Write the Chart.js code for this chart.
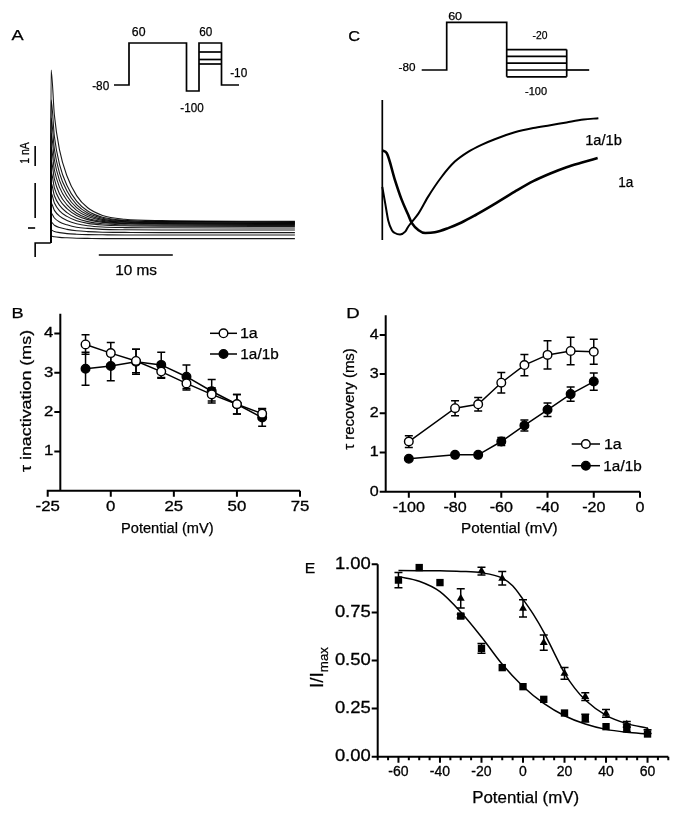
<!DOCTYPE html>
<html>
<head>
<meta charset="utf-8">
<script src="https://cdn.jsdelivr.net/npm/chart.js@4.4.1/dist/chart.umd.min.js"></script>
<style>
html, body { margin: 0; padding: 0; background: #fff; }
#page { position: relative; width: 679px; height: 817px; overflow: hidden; font-family: "Liberation Sans", Arial, sans-serif; color: #000; }
#page canvas { position: absolute; }
.lbl { position: absolute; white-space: nowrap; line-height: 1; -webkit-text-stroke: 0.25px #000; }
.lbl sub { font-size: 70%; vertical-align: -0.35em; line-height: 0; }
</style>
</head>
<body>
<div id="page"></div>
<script>
// ---------- data ----------

// A: current family, time (ms) / current (nA)
const traceTimes = [0, 0.05, 0.5, 1.2, 2.2, 3.5, 5, 7, 10, 15, 33];
const traceBase = -0.75;
const aTraces = [
  [7.9, 5.63, 3.89, 2.60, 1.62, 1.01, 0.63, 0.44, 0.37, 0.33],
  [6.4, 4.57, 3.17, 2.13, 1.34, 0.85, 0.54, 0.39, 0.33, 0.30],
  [5.5, 3.93, 2.73, 1.85, 1.17, 0.75, 0.49, 0.36, 0.31, 0.28],
  [4.75, 3.40, 2.37, 1.60, 1.02, 0.66, 0.43, 0.32, 0.27, 0.25],
  [4.05, 2.90, 2.03, 1.38, 0.88, 0.57, 0.38, 0.29, 0.25, 0.23],
  [3.4, 2.44, 1.70, 1.16, 0.74, 0.49, 0.33, 0.25, 0.22, 0.20],
  [2.8, 2.01, 1.41, 0.97, 0.63, 0.42, 0.28, 0.22, 0.19, 0.18],
  [2.25, 1.61, 1.13, 0.77, 0.49, 0.32, 0.21, 0.16, 0.14, 0.13],
  [1.75, 1.25, 0.86, 0.58, 0.36, 0.23, 0.15, 0.11, 0.09, 0.08],
  [1.25, 0.88, 0.59, 0.38, 0.21, 0.11, 0.05, 0.02, 0.01, 0.0],
  [0.75, 0.50, 0.30, 0.16, 0.04, -0.02, -0.07, -0.09, -0.10, -0.10],
  [0.3, 0.14, 0.02, -0.07, -0.14, -0.18, -0.21, -0.22, -0.23, -0.23],
  [-0.1, -0.18, -0.23, -0.28, -0.31, -0.33, -0.34, -0.35, -0.35, -0.35],
  [-0.4, -0.44, -0.47, -0.49, -0.51, -0.52, -0.53, -0.53, -0.53, -0.53]
];
const aHoldTime = [-2.1, 0];
const aArtifact = [-1.45, -0.75];
const aMarkLine = [0.5, 2.25];
const aZeroMark = [-3.07, -2.1];
const aBarNA = [3.1, 4.1];     // 1 nA scale bar
const aBarMs = [6.5, 16.5];    // 10 ms scale bar
const aBarLevel = -1.35;

// A inset: voltage protocol (ms / mV)
const protoATime = [0, 6, 6, 29, 29, 34, 34, 43, 43, 50];
const protoAVolt = [-80, -80, 60, 60, -100, -100, 60, 60, -80, -80];
const protoASteps = [30, 5, -10];
const protoABox = [34, 43];

// C inset: voltage protocol
const protoCTime = [0, 10, 10, 34, 34];
const protoCVolt = [-80, -80, 60, 60, -100];
const protoCSteps = [-20, -40, -60, -80, -100];
const protoCBox = [34, 58];
const protoCTail = [58, 67];

// C: normalised currents
const cTime1a1b = [0, 0.4, 0.8, 1.3, 1.7, 2.4, 3.1, 3.5, 4.0, 4.9, 6.2, 8.0, 9.8, 11.6, 13.4, 15.2, 17.9, 20.4, 22.7, 24.9, 27.2, 29.2];
const cCur1a1b = [0.38, 0.26, 0.14, 0.07, 0.05, 0.04, 0.06, 0.095, 0.13, 0.19, 0.31, 0.45, 0.56, 0.63, 0.68, 0.72, 0.77, 0.80, 0.82, 0.84, 0.86, 0.87];
const cTime1a = [0, 0.6, 1.7, 2.6, 3.5, 4.0, 4.9, 5.8, 7.1, 8.9, 10.7, 12.5, 14.8, 17.9, 20.4, 22.7, 24.9, 27.1, 29.1];
const cCur1a = [0.64, 0.62, 0.43, 0.29, 0.18, 0.12, 0.07, 0.05, 0.055, 0.085, 0.125, 0.175, 0.245, 0.345, 0.42, 0.475, 0.52, 0.555, 0.585];
const cArtifact = [0, 1.0];

// B: tau inactivation (ms)
const bVolt = [-10, 0, 10, 20, 30, 40, 50, 60];
const b1a = [3.72, 3.5, 3.3, 3.03, 2.73, 2.45, 2.2, 1.96];
const b1aErr = [0.25, 0.27, 0.3, 0.17, 0.17, 0.17, 0.25, 0.13];
const b1a1b = [3.1, 3.17, 3.28, 3.2, 2.9, 2.53, 2.2, 1.86];
const b1a1bErr = [0.42, 0.37, 0.32, 0.32, 0.3, 0.3, 0.25, 0.22];
const bXTicks = [-25, 0, 25, 50, 75];
const bYTicks = [1, 2, 3, 4];

// D: tau recovery (ms)
const dVolt = [-100, -80, -70, -60, -50, -40, -30, -20];
const d1a = [1.28, 2.13, 2.23, 2.78, 3.23, 3.49, 3.59, 3.57];
const d1aErr = [0.15, 0.19, 0.17, 0.26, 0.27, 0.36, 0.35, 0.32];
const d1a1b = [0.84, 0.94, 0.94, 1.28, 1.69, 2.09, 2.49, 2.81];
const d1a1bErr = [0, 0, 0, 0.1, 0.14, 0.17, 0.18, 0.22];
const dXTicks = [-100, -80, -60, -40, -20, 0];
const dYTicks = [0, 1, 2, 3, 4];

// E: steady-state inactivation I/Imax
const eVolt = [-60, -50, -40, -30, -20, -10, 0, 10, 20, 30, 40, 50, 60];
const eSquare = [0.918, 0.983, 0.905, 0.731, 0.563, 0.463, 0.364, 0.298, 0.227, 0.2, 0.156, 0.15, 0.118];
const eSquareErr = [0.04, 0, 0, 0.01, 0.025, 0, 0, 0, 0, 0.02, 0, 0.02, 0];
const eTriVolt = [-30, -20, -10, 0, 10, 20, 30, 40, 50, 60];
const eTri = [0.823, 0.965, 0.927, 0.771, 0.593, 0.433, 0.312, 0.225, 0.168, 0.13];
const eTriErr = [0.05, 0.02, 0.035, 0.045, 0.04, 0.03, 0.02, 0.02, 0.015, 0.01];
const eFitSqVolt = [-60, -50, -40, -30, -20, -10, 0, 10, 20, 30, 40, 50, 60];
const eFitSq = [0.936, 0.912, 0.858, 0.752, 0.622, 0.48, 0.365, 0.277, 0.213, 0.17, 0.142, 0.127, 0.118];
const eFitTriVolt = [-60, -50, -40, -30, -20, -10, -5, 0, 5, 10, 15, 20, 25, 30, 40, 50, 60];
const eFitTri = [0.968, 0.967, 0.966, 0.963, 0.956, 0.928, 0.888, 0.818, 0.74, 0.648, 0.54, 0.435, 0.355, 0.295, 0.215, 0.172, 0.148];
const eXTicks = [-60, -40, -20, 0, 20, 40, 60];
const eXMinor = [-70, -65, -55, -50, -45, -35, -30, -25, -15, -10, -5, 5, 10, 15, 25, 30, 35, 45, 50, 55, 65, 70];
const eYTicks = [0, 0.25, 0.5, 0.75, 1];

// ---------- helpers ----------
const page = document.getElementById('page');
const FONT = '"Liberation Sans", Arial, sans-serif';

function pts(xs, ys) { return xs.map((x, i) => ({ x: x, y: ys[i] })); }

function lineDs(points, width, extra) {
  return Object.assign({
    data: points, showLine: true, borderColor: '#000', borderWidth: width,
    pointRadius: 0, pointHoverRadius: 0, fill: false, clip: false, tension: 0
  }, extra || {});
}

// value range of a canvas edge, from two pixel anchors
function span(lo, hi, p0, v0, p1, v1) {
  const k = (v1 - v0) / (p1 - p0);
  const a = v0 + (lo - p0) * k, b = v0 + (hi - p0) * k;
  return [Math.min(a, b), Math.max(a, b)];
}

// axes, tick marks and tick labels drawn from the chart's scales
const axisPlugin = {
  id: 'axisDraw',
  beforeDatasetsDraw(chart, args, o) {
    if (!o || !o.xTicks) return;
    const ctx = chart.ctx;
    const X = v => chart.scales.x.getPixelForValue(v);
    const Y = v => chart.scales.y.getPixelForValue(v);
    const x0 = X(o.yAt), y0 = Y(o.xAt);
    ctx.save();
    ctx.strokeStyle = '#000';
    ctx.lineWidth = 2;
    ctx.beginPath();
    ctx.moveTo(X(o.xFrom) - 1, y0); ctx.lineTo(X(o.xTo), y0);
    ctx.moveTo(x0, y0 + 1); ctx.lineTo(x0, Y(o.yTo));
    o.xTicks.forEach(v => { ctx.moveTo(X(v), y0); ctx.lineTo(X(v), y0 + o.tick); });
    (o.xMinor || []).forEach(v => { ctx.moveTo(X(v), y0); ctx.lineTo(X(v), y0 + o.minor); });
    o.yTicks.forEach(v => { ctx.moveTo(x0, Y(v)); ctx.lineTo(x0 - o.tick, Y(v)); });
    ctx.stroke();

    ctx.fillStyle = '#000';
    ctx.strokeStyle = '#000';
    ctx.lineWidth = 0.3;
    ctx.textBaseline = 'middle';
    const put = (txt, x, y, sx) => {
      ctx.save();
      ctx.translate(x, y);
      ctx.scale(sx, 1);
      ctx.fillText(txt, 0, 0);
      ctx.strokeText(txt, 0, 0);
      ctx.restore();
    };
    ctx.font = (o.xFont || o.font) + 'px ' + FONT;
    ctx.textAlign = 'center';
    o.xTicks.forEach(v => put(v.toFixed(o.xdec || 0), X(v), y0 + o.xLabelDy, o.xsx || o.sx));
    ctx.font = o.font + 'px ' + FONT;
    ctx.textAlign = 'right';
    o.yTicks.forEach(v => put(v.toFixed(o.dec || 0), x0 - o.yLabelDx, Y(v), o.sx));
    ctx.restore();
  }
};

// vertical error bars with caps, under each dataset's markers
const errorPlugin = {
  id: 'errBars',
  beforeDatasetDraw(chart, args) {
    const ds = chart.data.datasets[args.index];
    if (!ds.errors) return;
    const ctx = chart.ctx, ys = chart.scales.y;
    ctx.save();
    ctx.strokeStyle = '#000';
    ctx.lineWidth = 1.5;
    ctx.beginPath();
    args.meta.data.forEach((pt, i) => {
      const e = ds.errors[i];
      if (!e) return;
      const v = ds.data[i].y;
      const top = ys.getPixelForValue(v + e), bot = ys.getPixelForValue(v - e);
      ctx.moveTo(pt.x, top); ctx.lineTo(pt.x, bot);
      ctx.moveTo(pt.x - 4, top); ctx.lineTo(pt.x + 4, top);
      ctx.moveTo(pt.x - 4, bot); ctx.lineTo(pt.x + 4, bot);
    });
    ctx.stroke();
    ctx.restore();
  }
};

// legend key: short line with the dataset's marker
const keyPlugin = {
  id: 'keyDraw',
  afterDatasetsDraw(chart, args, o) {
    if (!o || !o.items) return;
    const ctx = chart.ctx;
    o.items.forEach(it => {
      const ds = chart.data.datasets[it.dataset];
      const cx = (o.x0 + o.x1) / 2;
      ctx.save();
      ctx.strokeStyle = '#000';
      ctx.lineWidth = ds.borderWidth;
      ctx.beginPath(); ctx.moveTo(o.x0, it.y); ctx.lineTo(o.x1, it.y); ctx.stroke();
      ctx.fillStyle = ds.pointBackgroundColor;
      ctx.lineWidth = ds.pointBorderWidth;
      ctx.beginPath(); ctx.arc(cx, it.y, ds.pointRadius, 0, Math.PI * 2);
      ctx.fill(); ctx.stroke();
      ctx.restore();
    });
  }
};

function addChart(box, datasets, xr, yr, extra) {
  extra = extra || {};
  const c = document.createElement('canvas');
  c.width = box.w; c.height = box.h;
  c.style.left = box.x + 'px'; c.style.top = box.y + 'px';
  c.style.width = box.w + 'px'; c.style.height = box.h + 'px';
  page.appendChild(c);
  return new Chart(c, {
    type: 'scatter',
    data: { datasets: datasets },
    options: {
      responsive: false,
      animation: false,
      devicePixelRatio: 1,
      events: [],
      layout: { padding: extra.padding || 0 },
      plugins: {
        legend: { display: false },
        tooltip: { enabled: false },
        axisDraw: extra.axes || false,
        keyDraw: extra.key || false
      },
      scales: {
        x: { type: 'linear', display: false, min: xr[0], max: xr[1] },
        y: { type: 'linear', display: false, min: yr[0], max: yr[1] }
      }
    },
    plugins: [axisPlugin, errorPlugin, keyPlugin]
  });
}

function label(html, cx, cy, size, width, rotate) {
  const d = document.createElement('div');
  d.className = 'lbl';
  d.innerHTML = html;
  d.style.fontSize = size + 'px';
  page.appendChild(d);
  const w = d.offsetWidth, h = d.offsetHeight;
  const sx = width ? width / w : 1;
  d.style.left = (cx - w / 2) + 'px';
  d.style.top = (cy - h / 2) + 'px';
  d.style.transform = (rotate ? 'rotate(-90deg) ' : '') + 'scaleX(' + sx.toFixed(3) + ')';
}

// ---------- panel A ----------
const aSets = aTraces.map(vals => lineDs(
  [{ x: traceTimes[0], y: traceBase }].concat(vals.map((v, i) => ({ x: traceTimes[i + 1], y: v }))),
  1.1, { borderColor: 'rgba(0,0,0,0.9)', cubicInterpolationMode: 'monotone' }));
aSets.push(lineDs([{ x: aHoldTime[0], y: aArtifact[0] }, { x: aHoldTime[0], y: aArtifact[1] }, { x: aHoldTime[1], y: traceBase }], 1.6));
aSets.push(lineDs(pts([aHoldTime[0], aHoldTime[0]], aMarkLine), 1.6));
aSets.push(lineDs(pts(aZeroMark, [0, 0]), 1.6));
aSets.push(lineDs(pts([aHoldTime[0], aHoldTime[0]], aBarNA), 1.6));
aSets.push(lineDs(pts(aBarMs, [aBarLevel, aBarLevel]), 1.6));
addChart({ x: 15, y: 55, w: 300, h: 225 }, aSets,
  span(15, 315, 50.7, 0, 124.7, 10), span(55, 280, 228, 0, 208, 1));

const paSets = [lineDs(pts(protoATime, protoAVolt), 1.7)];
protoASteps.forEach(s => paSets.push(lineDs(pts(protoABox, [s, s]), 1.7)));
addChart({ x: 100, y: 25, w: 150, h: 90 }, paSets,
  span(100, 250, 114, 0, 139, 10), span(25, 115, 85, -80, 43, 60));

// ---------- panel C ----------
const pcSets = [lineDs(pts(protoCTime, protoCVolt), 1.7)];
protoCSteps.forEach(s => pcSets.push(lineDs(pts(protoCBox, [s, s]), 1.7)));
pcSets.push(lineDs(pts([protoCBox[1], protoCBox[1]], [protoCSteps[0], protoCSteps[protoCSteps.length - 1]]), 1.7));
pcSets.push(lineDs(pts(protoCTail, [-80, -80]), 1.7));
addChart({ x: 400, y: 8, w: 200, h: 85 }, pcSets,
  span(400, 600, 421.7, 0, 446.7, 10), span(8, 93, 70, -80, 22.4, 60));

addChart({ x: 370, y: 92, w: 240, h: 155 }, [
  lineDs(pts([0, 0], cArtifact), 1.7),
  lineDs(pts(cTime1a, cCur1a), 2.6, { cubicInterpolationMode: 'monotone' }),
  lineDs(pts(cTime1a1b, cCur1a1b), 2.0, { cubicInterpolationMode: 'monotone' })
], span(370, 610, 382.3, 0, 456.3, 10), span(92, 247, 240, 0, 100, 1));

// ---------- panel B ----------
function tauSet(xs, ys, errs, fillColor) {
  return lineDs(pts(xs, ys), 1.5, {
    errors: errs, pointRadius: 4.3, pointStyle: 'circle',
    pointBackgroundColor: fillColor, pointBorderColor: '#000', pointBorderWidth: 1.4
  });
}
addChart({ x: 0, y: 290, w: 340, h: 255 }, [
  tauSet(bVolt, b1a, b1aErr, '#fff'),
  tauSet(bVolt, b1a1b, b1a1bErr, '#000')
], [-25, 75], [0, 4.5], {
  padding: { left: 47.7, right: 40, top: 23.8, bottom: 54.3 },
  axes: { xAt: 0, yAt: -20, xFrom: -25, xTo: 75, yFrom: 0, yTo: 4.5, xTicks: bXTicks, yTicks: bYTicks,
          tick: 6, xLabelDy: 16, yLabelDx: 7, font: 14, sx: 1.2 },
  key: { x0: 210, x1: 237, items: [{ dataset: 0, y: 43.3 }, { dataset: 1, y: 64 }] }
});

// ---------- panel D ----------
addChart({ x: 340, y: 290, w: 339, h: 255 }, [
  tauSet(dVolt, d1a, d1aErr, '#fff'),
  tauSet(dVolt, d1a1b, d1a1bErr, '#000')
], [-110, 0], [0, 4.5], {
  padding: { left: 45.7, right: 39, top: 25.3, bottom: 53.3 },
  axes: { xAt: 0, yAt: -110, xFrom: -110, xTo: 0, yFrom: 0, yTo: 4.5, xTicks: dXTicks, yTicks: dYTicks,
          tick: 6, xLabelDy: 16.6, yLabelDx: 7, font: 14, sx: 1.15 },
  key: { x0: 231.7, x1: 260, items: [{ dataset: 0, y: 154 }, { dataset: 1, y: 175.7 }] }
});

// ---------- panel E ----------
addChart({ x: 300, y: 540, w: 379, h: 277 }, [
  lineDs(pts(eFitSqVolt, eFitSq), 1.5, { cubicInterpolationMode: 'monotone' }),
  lineDs(pts(eFitTriVolt, eFitTri), 1.5, { cubicInterpolationMode: 'monotone' }),
  { data: pts(eVolt, eSquare), errors: eSquareErr, pointStyle: 'rect', pointRadius: 5.2,
    pointBackgroundColor: '#000', pointBorderColor: '#000', pointBorderWidth: 0, clip: false },
  { data: pts(eTriVolt, eTri), errors: eTriErr, pointStyle: 'triangle', pointRadius: 4.6,
    pointBackgroundColor: '#000', pointBorderColor: '#000', pointBorderWidth: 0, clip: false }
], [-70, 70], [0, 1], {
  padding: { left: 77.7, right: 10.7, top: 24.3, bottom: 60.3 },
  axes: { xAt: 0, yAt: -70, xFrom: -70, xTo: 70, yFrom: 0, yTo: 1, xTicks: eXTicks, xMinor: eXMinor, yTicks: eYTicks,
          tick: 6, minor: 3.5, xLabelDy: 15.8, yLabelDx: 7, font: 16, xFont: 14, sx: 1.15, xsx: 1, dec: 2 }
});

// ---------- text ----------
label('A', 17.5, 35, 14, 11.7);
label('60', 138.3, 31.7, 12, 13.3);
label('60', 205.3, 31.7, 12, 12.7);
label('-80', 100, 85.5, 12, 16.7);
label('-10', 238.3, 72.5, 12, 16.7);
label('-100', 191.7, 108, 12, 23.3);
label('1 nA', 25.5, 152.5, 12, 21.7, true);
label('10 ms', 136, 270, 14, 41.7);

label('C', 354, 36, 14, 11.7);
label('60', 455, 16, 11, 13.7);
label('-80', 406.5, 67, 11, 17);
label('-20', 540, 35, 11, 15);
label('-100', 536, 91, 11, 22);
label('1a/1b', 603, 140, 14, 36.7);
label('1a', 625.5, 181.7, 14, 15.5);

label('B', 17.5, 313, 14, 11.7);
label('\u03c4 inactivation (ms)', 25, 401, 14, 141.7, true);
label('Potential (mV)', 167, 528, 14, 93);
label('1a', 249.2, 333.3, 14, 18.3);
label('1a/1b', 259.2, 354, 14, 38.3);

label('D', 353.3, 312.5, 14, 13.3);
label('\u03c4 recovery (ms)', 349, 399, 14, 101.7, true);
label('Potential (mV)', 509, 528, 14, 97);
label('1a', 612.5, 444, 14, 18.3);
label('1a/1b', 622.5, 465.7, 14, 38.3);

label('E', 310, 567, 15, 10.5);
label('I/I<sub>max</sub>', 316, 667, 19, null, true);
label('Potential (mV)', 525, 798, 16, 106.7);
</script>
</body>
</html>
